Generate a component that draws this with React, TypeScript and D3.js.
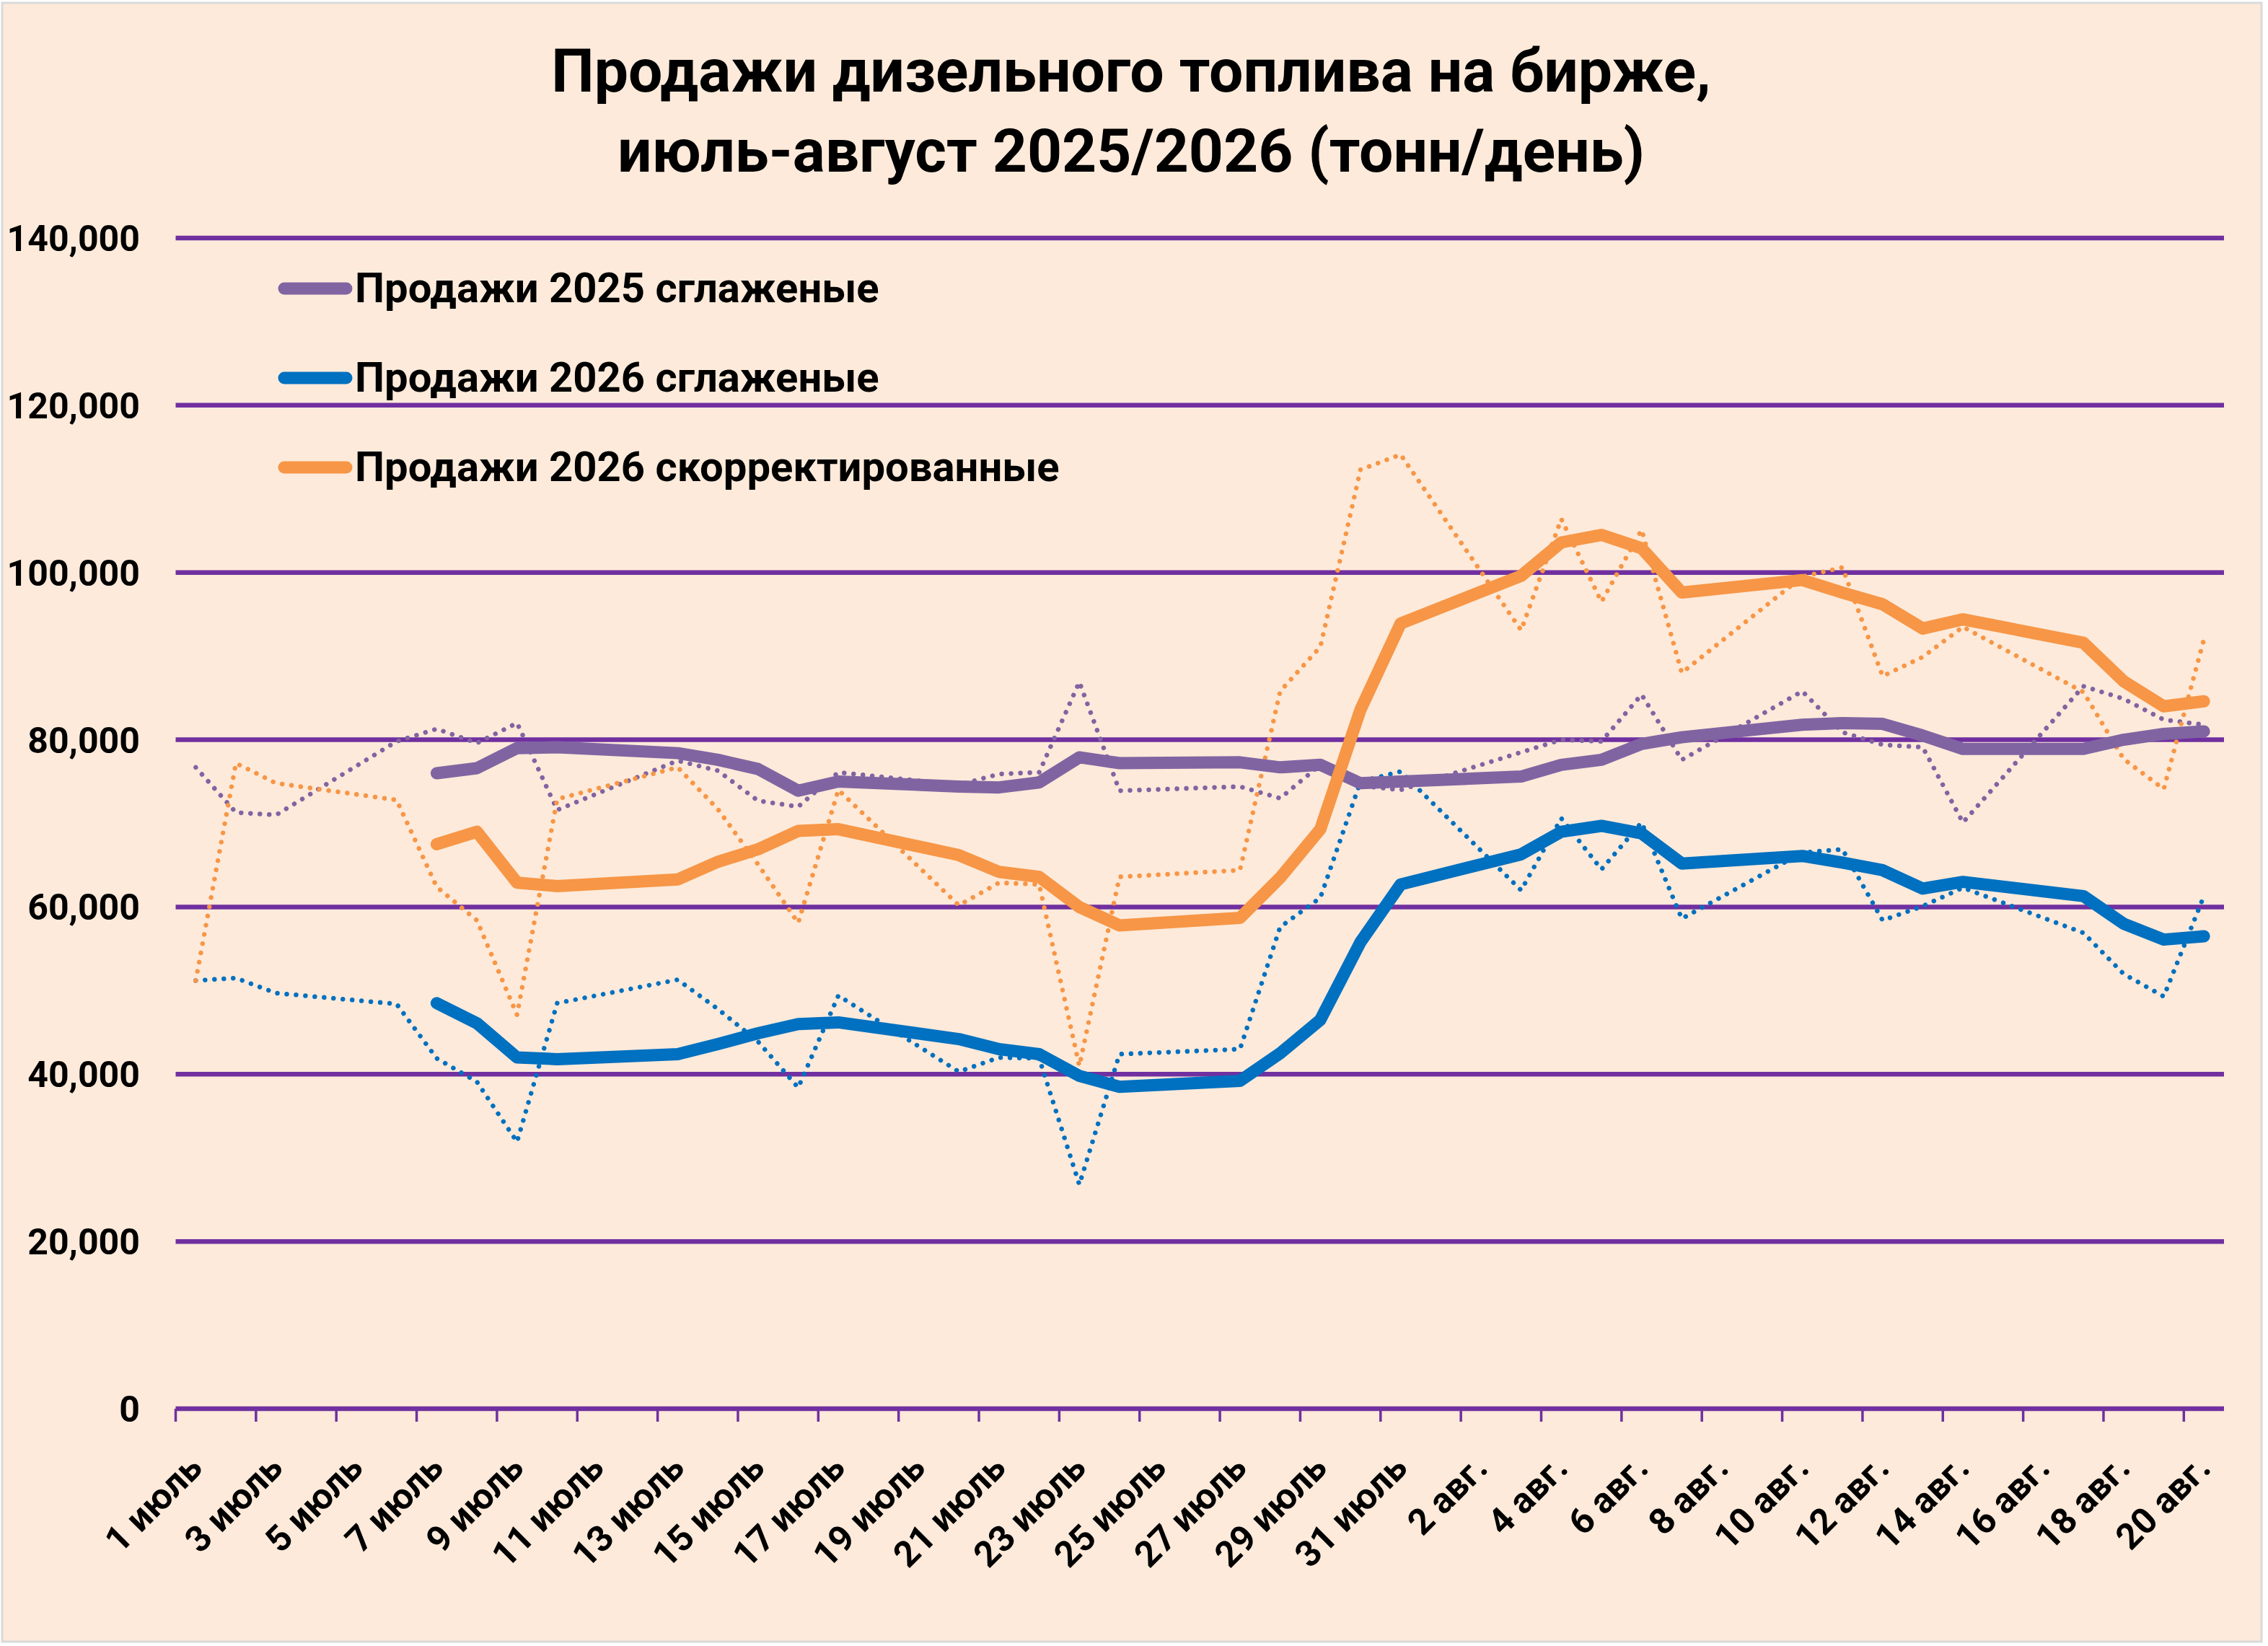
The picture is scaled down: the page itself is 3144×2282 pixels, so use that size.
import * as d3 from 'd3'

// ---- data (tonnes/day); null = weekend, no trading ----
const dates = [
  '1 июль', '2 июль', '3 июль', '4 июль', '5 июль', '6 июль', '7 июль', '8 июль', '9 июль', '10 июль',
  '11 июль', '12 июль', '13 июль', '14 июль', '15 июль', '16 июль', '17 июль', '18 июль', '19 июль', '20 июль',
  '21 июль', '22 июль', '23 июль', '24 июль', '25 июль', '26 июль', '27 июль', '28 июль', '29 июль', '30 июль',
  '31 июль', '1 авг.', '2 авг.', '3 авг.', '4 авг.', '5 авг.', '6 авг.', '7 авг.', '8 авг.', '9 авг.',
  '10 авг.', '11 авг.', '12 авг.', '13 авг.', '14 авг.', '15 авг.', '16 авг.', '17 авг.', '18 авг.', '19 авг.',
  '20 авг.',
]

const raw2025 = [
  76700, 71300, 71000, null, null, 79800, 81300, 79600, 82000, 71600,
  null, null, 77500, 76300, 72700, 72000, 76100, null, null, 74600,
  75900, 76100, 86900, 73900, null, null, 74400, 73000, 77000, 74500,
  74000, null, null, 78500, 80000, 79800, 85400, 77600, null, null,
  85800, 80900, 79400, 79100, 70100, null, null, 86400, 84900, 82400,
  81800,
]

const smooth2025 = [
  null, null, null, null, null, null, 76000, 76600, 79000, 79100,
  null, null, 78400, 77600, 76500, 73900, 75000, null, null, 74400,
  74300, 74900, 77900, 77200, null, null, 77300, 76700, 77000, 74800,
  75000, null, null, 75600, 77000, 77600, 79500, 80300, null, null,
  81800, 82000, 81900, 80500, 78900, null, null, 78900, 80000, 80700,
  81000,
]

const raw2026 = [
  51200, 51500, 49700, null, null, 48400, 41900, 39100, 31900, 48500,
  null, null, 51300, 47800, 43900, 38400, 49400, null, null, 40300,
  42000, 41900, 26800, 42400, null, null, 43000, 57600, 61100, 75000,
  76200, null, null, 62000, 70600, 64500, 70100, 58600, null, null,
  66500, 66900, 58400, 60100, 62300, null, null, 56900, 52000, 49300,
  61300,
]

const smooth2026 = [
  null, null, null, null, null, null, 48500, 46100, 42000, 41800,
  null, null, 42400, 43600, 44900, 46000, 46200, null, null, 44200,
  43000, 42400, 39800, 38500, null, null, 39200, 42500, 46500, 55800,
  62700, null, null, 66300, 69000, 69700, 68800, 65200, null, null,
  66100, 65300, 64400, 62200, 63000, null, null, 61300, 58000, 56100,
  56500,
]

const adjRaw2026 = [
  51200, 77200, 74800, null, null, 72800, 62400, 58400, 47100, 72900,
  null, null, 76700, 71700, 65100, 58100, 74000, null, null, 60200,
  62900, 62700, 41000, 63600, null, null, 64400, 85800, 91100, 112300,
  114100, null, null, 93100, 106400, 96500, 105100, 88000, null, null,
  99500, 100600, 87600, 89900, 93500, null, null, 85700, 77700, 74100,
  92000,
]

const adjSmooth2026 = [
  null, null, null, null, null, null, 67500, 69000, 62900, 62500,
  null, null, 63300, 65400, 66900, 69100, 69300, null, null, 66200,
  64200, 63600, 60000, 57800, null, null, 58700, 63500, 69300, 83600,
  93900, null, null, 99600, 103600, 104500, 102900, 97600, null, null,
  99100, 97600, 96200, 93300, 94400, null, null, 91600, 87000, 84000,
  84600,
]

const yTicks = [0, 20000, 40000, 60000, 80000, 100000, 120000, 140000]

const legendItems = [
  { name: 'Продажи 2025 сглаженые', color: '#8064A2' },
  { name: 'Продажи 2026 сглаженые', color: '#0070C0' },
  { name: 'Продажи 2026 скорректированные', color: '#F79646' },
]

const W = 3144, H = 2282
const FONT = "Roboto, 'Noto Sans', sans-serif"
const GRID = '#7030A0'

export default function App() {
  const x = d3.scaleBand<string>().domain(dates).range([243.5, 3083]).paddingInner(0).paddingOuter(0)
  const y = d3.scaleLinear().domain([0, 140000]).range([1953, 330])
  const cx = (i: number) => (x(dates[i]) ?? 0) + x.bandwidth() / 2

  const path = (vals: (number | null)[]) => {
    const pts = vals
      .map((v, i) => ({ i, v }))
      .filter((p): p is { i: number; v: number } => p.v != null)
    return d3.line<{ i: number; v: number }>().x(p => cx(p.i)).y(p => y(p.v))(pts) ?? ''
  }

  const dotted = [
    { vals: raw2025, color: '#8064A2' },
    { vals: raw2026, color: '#0070C0' },
    { vals: adjRaw2026, color: '#F79646' },
  ]
  const solid = [
    { vals: smooth2025, color: '#8064A2' },
    { vals: smooth2026, color: '#0070C0' },
    { vals: adjSmooth2026, color: '#F79646' },
  ]

  const tickIdx = dates.map((_, i) => i).filter(i => i % 2 === 0)

  return (
    <div style={{ position: 'absolute', left: 0, top: 0, background: '#fff' }}>
      <svg width={W} height={H} viewBox={`0 0 ${W} ${H}`} style={{ display: 'block', fontFamily: FONT }}>
        <rect x={3} y={4} width={3132} height={2272} fill="#FDEADA" stroke="#D9D9D9" strokeWidth={3} />

        {/* title */}
        <text x={1568} y={127} textAnchor="middle" fontSize={84} fontWeight={700} fill="#000">
          Продажи дизельного топлива на бирже,
        </text>
        <text x={1568} y={238} textAnchor="middle" fontSize={84} fontWeight={700} fill="#000">
          июль-август 2025/2026 (тонн/день)
        </text>

        {/* gridlines + y labels */}
        {yTicks.map(t => (
          <g key={t}>
            <line x1={243.5} x2={3083} y1={y(t)} y2={y(t)} stroke={GRID} strokeWidth={6.5} />
            <text x={194} y={y(t) + 18} textAnchor="end" fontSize={50} fontWeight={700} fill="#000">
              {d3.format(',')(t)}
            </text>
          </g>
        ))}

        {/* x ticks + labels */}
        {tickIdx.map(i => (
          <g key={i}>
            <line x1={x(dates[i])} x2={x(dates[i])} y1={1953} y2={1971} stroke={GRID} strokeWidth={3.5} />
            <text
              transform={`translate(${cx(i) + 12},${2038}) rotate(-45)`}
              textAnchor="end" fontSize={50} fontWeight={700} fill="#000"
            >
              {dates[i]}
            </text>
          </g>
        ))}

        {/* raw daily values, dotted */}
        {dotted.map((s, k) => (
          <path key={k} d={path(s.vals)} fill="none" stroke={s.color} strokeWidth={6.5}
            strokeDasharray="0.01 13" strokeLinecap="round" strokeLinejoin="round" />
        ))}

        {/* smoothed values */}
        {solid.map((s, k) => (
          <path key={k} d={path(s.vals)} fill="none" stroke={s.color} strokeWidth={17}
            strokeLinecap="round" strokeLinejoin="round" />
        ))}

        {/* legend */}
        {legendItems.map((l, k) => (
          <g key={l.name} transform={`translate(0,${400 + k * 124})`}>
            <line x1={394} x2={480} y1={0} y2={0} stroke={l.color} strokeWidth={17} strokeLinecap="round" />
            <text x={492} y={19} fontSize={58} fontWeight={700} fill="#000">{l.name}</text>
          </g>
        ))}
      </svg>
    </div>
  )
}
